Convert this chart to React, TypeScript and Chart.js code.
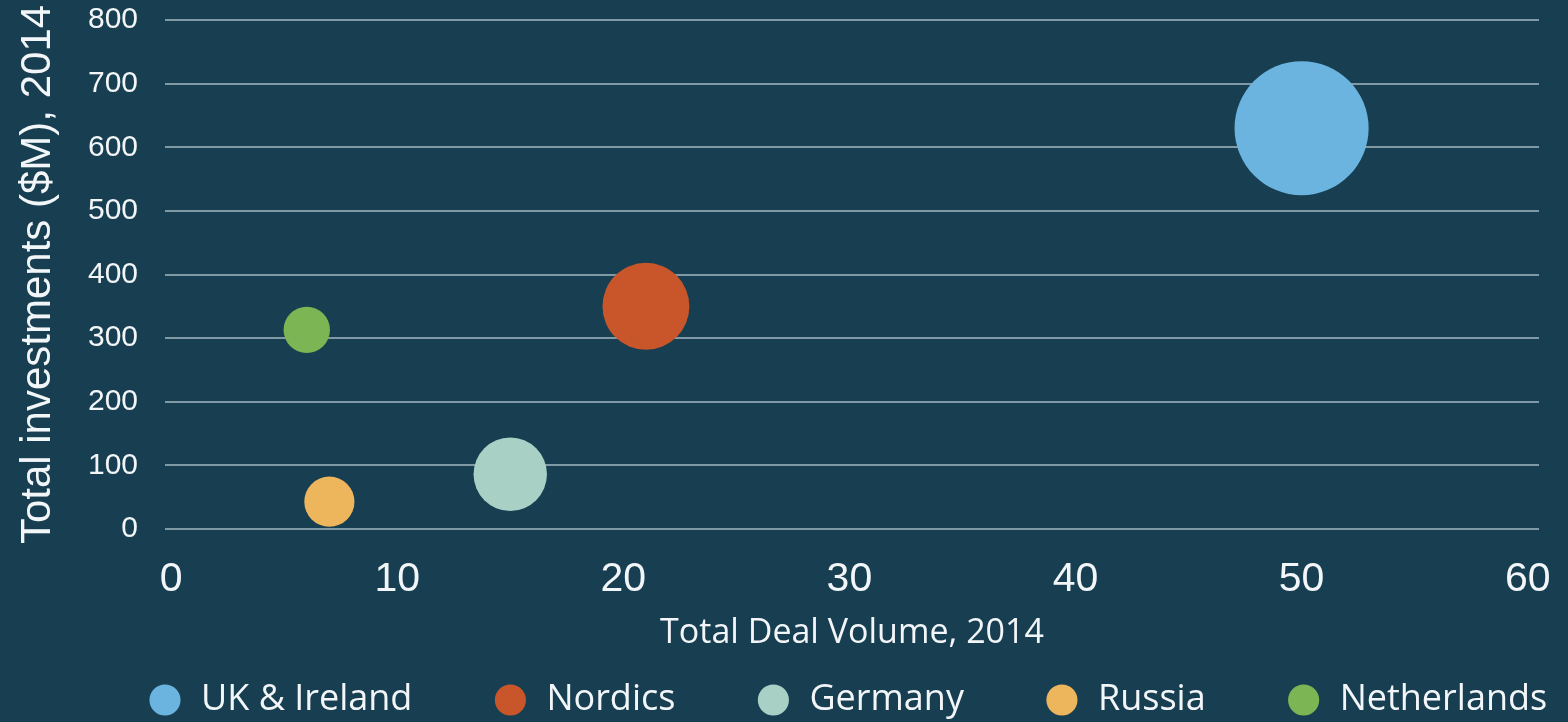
import React, { useEffect, useRef } from 'react';
import { Chart, registerables } from 'chart.js';

Chart.register(...registerables);

// ---- data ----
const regions = ['UK & Ireland', 'Nordics', 'Germany', 'Russia', 'Netherlands'];
const dealVolume = [50, 21, 15, 7, 6];
const investments = [630, 350, 86, 43, 313];
const colors = ['#6cb4e0', '#c9562a', '#a8d0c5', '#eeb65c', '#7cb553'];
const xTicks = [0, 10, 20, 30, 40, 50, 60];
const yTicks = [0, 100, 200, 300, 400, 500, 600, 700, 800];
const xTitle = 'Total Deal Volume, 2014';
const yTitle = 'Total investments ($M), 2014';

// bubble radius (px) per sqrt of deal volume
const BUBBLE_SCALE = 9.48;

const BG = '#173e51';
const GRID = '#7f9aa4';
const TEXT = '#f2f6f8';

const noPad = (s: any) => {
  s.paddingTop = 0;
  s.paddingBottom = 0;
  s.paddingLeft = 0;
  s.paddingRight = 0;
};

export default function App() {
  const ref = useRef<HTMLCanvasElement | null>(null);

  useEffect(() => {
    if (!ref.current) return;
    const datasets = regions.map((name, i) => ({
      label: name,
      data: [{ x: dealVolume[i], y: investments[i], r: Math.sqrt(dealVolume[i]) * BUBBLE_SCALE }],
      backgroundColor: colors[i],
      borderColor: colors[i],
      borderWidth: 0,
      hoverBorderWidth: 0,
      pointStyle: 'circle',
    }));

    const chart = new Chart(ref.current, {
      type: 'bubble',
      data: { datasets },
      options: {
        animation: false,
        responsive: false,
        devicePixelRatio: 1,
        layout: { autoPadding: false, padding: { left: 67, right: -80, top: 20, bottom: -6 } },
        plugins: {
          legend: {
            position: 'bottom',
            align: 'start',
            labels: {
              usePointStyle: true,
              pointStyle: 'circle',
              boxWidth: 36,
              boxHeight: 22,
              padding: 80,
              color: TEXT,
              font: { family: 'Open Sans', size: 36 },
            },
          },
          tooltip: { enabled: false },
        },
        scales: {
          x: {
            type: 'linear',
            min: -0.27,
            max: 60.5,
            afterBuildTicks: (s: any) => {
              s.ticks = xTicks.map((v) => ({ value: v }));
            },
            afterFit: (s: any) => {
              s.height = 73;
              noPad(s);
            },
            grid: { display: false },
            border: { display: false },
            ticks: {
              color: TEXT,
              font: { family: 'Liberation Sans', size: 41 },
              padding: 18,
              maxRotation: 0,
              autoSkip: false,
            },
            title: {
              display: true,
              text: xTitle,
              color: TEXT,
              font: { family: 'Open Sans', size: 34 },
              padding: { top: 0, bottom: -52 },
            },
          },
          y: {
            type: 'linear',
            position: 'left',
            min: 0,
            max: 800,
            afterBuildTicks: (s: any) => {
              s.ticks = yTicks.map((v) => ({ value: v }));
            },
            afterFit: (s: any) => {
              s.width = 98;
              noPad(s);
            },
            grid: { color: GRID, lineWidth: 2, drawTicks: false },
            border: { display: false },
            ticks: {
              color: TEXT,
              font: { family: 'Liberation Sans', size: 30 },
              padding: 27,
            },
            title: {
              display: true,
              text: yTitle,
              color: TEXT,
              font: { family: 'Liberation Sans', size: 42 },
              padding: { top: -54, bottom: 0 },
            },
          },
          y2: {
            type: 'linear',
            position: 'right',
            display: true,
            grid: { display: false },
            border: { display: false },
            ticks: { display: false },
            afterFit: (s: any) => {
              s.width = 109;
              noPad(s);
            },
          },
        },
      } as any,
    });
    return () => chart.destroy();
  }, []);

  return (
    <div style={{ position: 'fixed', left: 0, top: 0, width: 1568, height: 722, background: BG }}>
      <canvas ref={ref} width={1568} height={722} style={{ display: 'block', width: 1568, height: 722 }} />
    </div>
  );
}
